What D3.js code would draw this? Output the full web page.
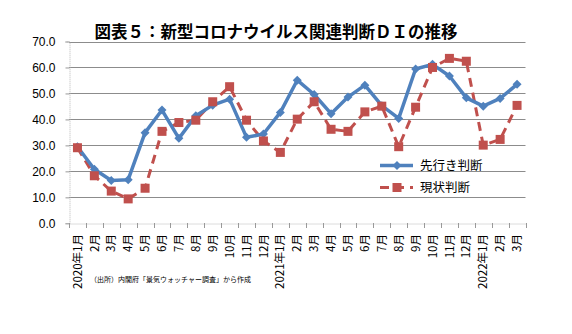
<!DOCTYPE html>
<html><head><meta charset="utf-8">
<script src="https://cdn.jsdelivr.net/npm/d3@7"></script>
<style>body{margin:0;background:#fff}svg{display:block}</style>
</head><body>
<script>
const categories = ["2020年1月","2月","3月","4月","5月","6月","7月","8月","9月","10月","11月","12月",
  "2021年1月","2月","3月","4月","5月","6月","7月","8月","9月","10月","11月","12月",
  "2022年1月","2月","3月"];
const sakiyuki = [29.5,20.8,16.5,16.8,34.9,43.6,32.7,41.4,45.5,47.8,33.1,34.4,
  42.7,55.1,49.6,42.2,48.6,53.2,45.3,40.4,59.4,61.2,56.7,48.3,45.1,48.1,53.5];
const genjo = [29.1,18.3,12.4,9.4,13.5,35.4,38.8,39.7,46.8,52.6,39.7,31.7,
  27.3,40.1,46.8,36.2,35.4,42.9,45.1,29.5,44.7,60.0,63.5,62.4,30.1,32.3,45.4];
const yTicks = [0,10,20,30,40,50,60,70];
const seriesNames = ["先行き判断","現状判断"];
const title = "図表５：新型コロナウイルス関連判断ＤＩの推移";
const source = "（出所）内閣府「景気ウォッチャー調査」から作成";

const W = 572, H = 334;
const blue = "#4F81BD", red = "#C0504D";
const jp = "'Noto Sans CJK JP','Noto Sans',sans-serif";
const svg = d3.select("body").append("svg").attr("width", W).attr("height", H);

const x = d3.scaleBand().domain(d3.range(categories.length)).range([69, 525.5]);
const y = d3.scaleLinear().domain([0, 70]).range([223.3, 41.5]);

// gridlines
svg.append("g").selectAll("line").data(yTicks.filter(d => d > 0)).join("line")
  .attr("x1", 69).attr("x2", 525.5)
  .attr("y1", d => Math.round(y(d)) + 0.5).attr("y2", d => Math.round(y(d)) + 0.5)
  .attr("stroke", "#8c8c8c").attr("stroke-width", 1);

// y axis
const yAxis = d3.axisLeft(y).tickValues(yTicks).tickFormat(d3.format(".1f")).tickSize(4);
const gy = svg.append("g").attr("transform", "translate(69.5,0)").call(yAxis);
gy.select(".domain").attr("stroke", "#b8b8b8").attr("stroke-dasharray", "1,1");
gy.selectAll(".tick line").attr("stroke", "#999");
gy.selectAll("text").attr("font-family", "'Liberation Sans',Arial,sans-serif")
  .attr("font-size", 12).attr("fill", "#000").attr("x", -14);

// x axis
const xAxis = d3.axisBottom(x).tickSize(0).tickFormat("");
const gx = svg.append("g").attr("transform", `translate(0,${Math.round(y(0)) + 0.5})`).call(xAxis);
gx.select(".domain").attr("stroke", "#b8b8b8").attr("stroke-dasharray", "1,1");
gx.selectAll(".tick").remove();
svg.append("g").selectAll("line").data(d3.range(categories.length + 1)).join("line")
  .attr("x1", i => Math.round(69 + i * x.step()) + 0.5).attr("x2", i => Math.round(69 + i * x.step()) + 0.5)
  .attr("y1", Math.round(y(0))).attr("y2", Math.round(y(0)) + 5)
  .attr("stroke", "#999");

// x labels
svg.append("g").selectAll("text").data(categories).join("text")
  .attr("transform", (d, i) => `translate(${x(i) + x.bandwidth() / 2},234) rotate(-90)`)
  .attr("text-anchor", "end").attr("dy", "0.36em")
  .attr("font-family", jp).attr("font-size", 11.5).attr("fill", "#000")
  .text(d => d);

// lines
const line = d3.line().x((d, i) => x(i) + x.bandwidth() / 2).y(d => y(d));
svg.append("path").datum(genjo).attr("d", line).attr("fill", "none")
  .attr("stroke", red).attr("stroke-width", 3).attr("stroke-dasharray", "9,6");
svg.append("path").datum(sakiyuki).attr("d", line).attr("fill", "none")
  .attr("stroke", blue).attr("stroke-width", 3.5).attr("stroke-linejoin", "round");

const diamond = (cx, cy, r) => `M${cx},${cy - r}L${cx + r},${cy}L${cx},${cy + r}L${cx - r},${cy}Z`;
svg.append("g").selectAll("path").data(sakiyuki).join("path")
  .attr("d", (d, i) => diamond(x(i) + x.bandwidth() / 2, y(d), 4.5)).attr("fill", blue);
svg.append("g").selectAll("rect").data(genjo).join("rect")
  .attr("x", (d, i) => x(i) + x.bandwidth() / 2 - 4.5).attr("y", d => y(d) - 4.5)
  .attr("width", 9).attr("height", 9).attr("fill", red);

// legend
const lg = svg.append("g");
lg.append("line").attr("x1", 380).attr("x2", 413).attr("y1", 165.5).attr("y2", 165.5)
  .attr("stroke", blue).attr("stroke-width", 3.5);
lg.append("path").attr("d", diamond(397, 165.5, 4.5)).attr("fill", blue);
lg.append("line").attr("x1", 380).attr("x2", 413).attr("y1", 187.5).attr("y2", 187.5)
  .attr("stroke", red).attr("stroke-width", 3).attr("stroke-dasharray", "9,6");
lg.append("rect").attr("x", 392.5).attr("y", 183).attr("width", 9).attr("height", 9).attr("fill", red);
lg.selectAll("text").data(seriesNames).join("text")
  .attr("x", 420).attr("y", (d, i) => 165.5 + i * 22).attr("dy", "0.36em")
  .attr("font-family", jp).attr("font-size", 12.5).attr("fill", "#000").text(d => d);

// title
svg.append("text").attr("x", 276).attr("y", 38).attr("text-anchor", "middle")
  .attr("font-family", jp).attr("font-weight", "bold").attr("font-size", 16.5).attr("fill", "#000")
  .text(title);

// source
svg.append("text").attr("x", 90).attr("y", 282)
  .attr("font-family", jp).attr("font-size", 7).attr("fill", "#000").text(source);
</script>
</body></html>
